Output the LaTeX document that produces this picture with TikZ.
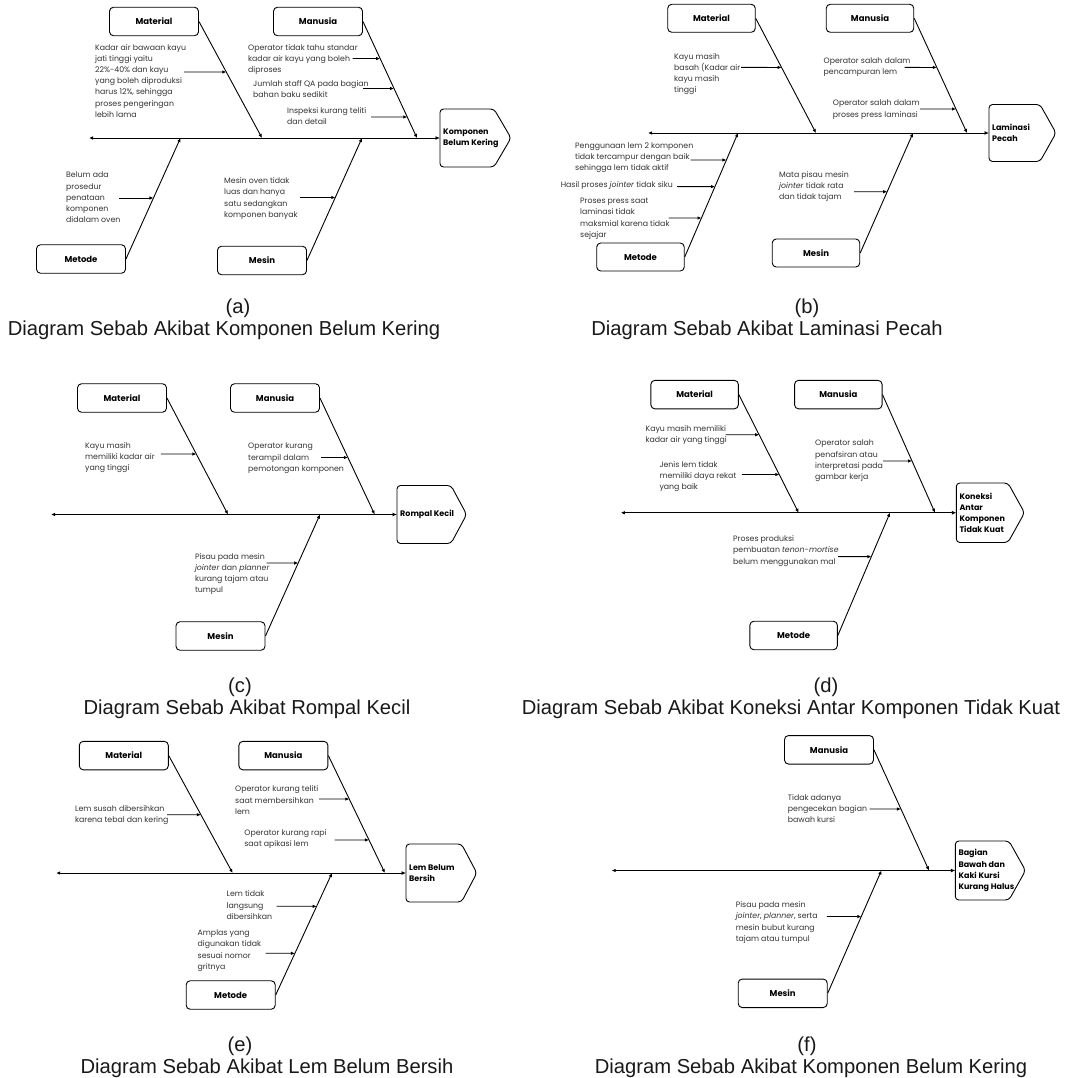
\documentclass[tikz,border=0pt]{standalone}
\usepackage{fontspec}
\setmainfont{Poppins}
\newfontfamily\capfont{Liberation Sans}
\usetikzlibrary{arrows.meta,calc}

% cause: #1 name, #2 x, #3 y (first line centre), #4 text, #5 arrow start x, #6 arrow y, #7 #8 bone ends
\newcommand{\fbcause}[8]{%
  \node[causetext, yshift=3pt] (#1) at (#2,#3) {#4};
  \coordinate (#1s) at (#5,#6);
  \coordinate (#1h) at (#5+20,#6);
  \draw[causearrow] (#1s) -- (intersection of #1s--#1h and #7--#8);
}
% head: #1 name, #2 x0, #3 x1, #4 x2 (tip), #5 y0, #6 y1
\newcommand{\fbhead}[6]{%
  \path[headline] (#2,#5) -- (#3,#5) -- (#4,{(#5+#6)/2}) -- (#3,#6) -- (#2,#6) -- cycle;
  \coordinate (#1) at (#2,{(#5+#6)/2});
}

\begin{document}
\begin{tikzpicture}[x=1pt,y=-1pt,
  catbox/.style={draw, line width=0.9pt, rounded corners=4pt, minimum width=89pt,
    minimum height=28.5pt, inner sep=0pt, font=\fontsize{8.5}{10}\selectfont\bfseries},
  catline/.style={line width=0.9pt, -{Latex[length=4pt,width=3.5pt]}},
  spineline/.style={line width=0.9pt, {Latex[length=4pt,width=3.5pt]}-{Latex[length=4.5pt,width=4pt]}},
  causetext/.style={anchor=north west, inner sep=0pt, align=left, text=black!80,
    font=\fontsize{7.8}{11.2}\selectfont},
  causearrow/.style={line width=0.8pt, -{Latex[length=4pt,width=3.5pt]}},
  headline/.style={draw, line width=0.9pt, rounded corners=3.5pt},
  headtext/.style={anchor=west, inner sep=0pt, align=left, font=\fontsize{8}{11.2}\selectfont\bfseries},
  capt/.style={anchor=base, inner sep=0pt, font=\capfont\fontsize{20.2}{22}\selectfont, text=black!90},
]
\fill[white] (0,0) rectangle (1068,1078);
\useasboundingbox (0,0) rectangle (1068,1078);

%%%%%%%%%%%%%%%% (a)
\node[catbox] (matA) at (154,21.5) {Material};
\node[catbox] (manA) at (318,21.5) {Manusia};
\node[catbox] (metA) at (81,259) {Metode};
\node[catbox] (mesA) at (262,260.5) {Mesin};
\fbhead{hA}{440}{494}{511}{109}{167}
\node[headtext] (hAt) at ([xshift=3pt]hA) {Komponen\\Belum Kering};
\coordinate (spA) at (89,138);
\draw[spineline] (spA) -- (hA);
\coordinate (matAe) at (matA.east); \coordinate (matAp) at (262,138);
\coordinate (manAe) at (manA.east); \coordinate (manAp) at (417,138);
\coordinate (metAe) at (metA.east); \coordinate (metAp) at (180.5,138);
\coordinate (mesAe) at (mesA.east); \coordinate (mesAp) at (362,138);
\draw[catline] (matAe) -- (matAp);
\draw[catline] (manAe) -- (manAp);
\draw[catline] (metAe) -- (metAp);
\draw[catline] (mesAe) -- (mesAp);
\fbcause{ca1}{95}{47}{Kadar air bawaan kayu\\jati tinggi yaitu\\22\%-40\% dan kayu\\yang boleh diproduksi\\harus 12\%, sehingga\\proses pengeringan\\lebih lama}{184}{72}{matAe}{matAp}
\fbcause{ca2}{248}{47}{Operator tidak tahu standar\\kadar air kayu yang boleh\\diproses}{352.5}{58.6}{manAe}{manAp}
\fbcause{ca3}{253}{83}{Jumlah staff QA pada bagian\\bahan baku sedikit}{363}{88.5}{manAe}{manAp}
\fbcause{ca4}{287}{110}{Inspeksi kurang teliti\\dan detail}{371}{117}{manAe}{manAp}
\fbcause{ca5}{66}{175}{Belum ada\\prosedur\\penataan\\komponen\\didalam oven}{119}{198}{metAe}{metAp}
\fbcause{ca6}{224}{180.5}{Mesin oven tidak\\luas dan hanya\\satu sedangkan\\komponen banyak}{300}{197.5}{mesAe}{mesAp}
\node[capt] (labA) at (238,313) {(a)};
\node[capt] (capA) at (224,335) {Diagram Sebab Akibat Komponen Belum Kering};

%%%%%%%%%%%%%%%% (b)
\begin{scope}[catbox/.append style={minimum width=87.5pt, minimum height=28pt}]
\node[catbox] (matB) at (711.5,18.3) {Material};
\node[catbox] (manB) at (870,18.3) {Manusia};
\node[catbox] (metB) at (640.5,257) {Metode};
\node[catbox] (mesB) at (816,253) {Mesin};
\end{scope}
\fbhead{hB}{989}{1040}{1056}{104.5}{161.5}
\node[headtext] (hBt) at ([xshift=3pt]hB) {Laminasi\\Pecah};
\coordinate (spB) at (648,133);
\draw[spineline] (spB) -- (hB);
\coordinate (matBe) at (matB.east); \coordinate (matBp) at (816,133);
\coordinate (manBe) at (manB.east); \coordinate (manBp) at (967,133);
\coordinate (metBe) at (metB.east); \coordinate (metBp) at (738,133);
\coordinate (mesBe) at (mesB.east); \coordinate (mesBp) at (913,133);
\draw[catline] (matBe) -- (matBp);
\draw[catline] (manBe) -- (manBp);
\draw[catline] (metBe) -- (metBp);
\draw[catline] (mesBe) -- (mesBp);
\fbcause{cb1}{674}{56}{Kayu masih\\basah (Kadar air\\kayu masih\\tinggi}{741}{67.4}{matBe}{matBp}
\fbcause{cb2}{823.5}{60.6}{Operator salah dalam\\pencampuran lem}{904.6}{67.4}{manBe}{manBp}
\fbcause{cb3}{832.7}{103}{Operator salah dalam\\proses press laminasi}{920}{109}{manBe}{manBp}
\fbcause{cb4}{575}{145.4}{Penggunaan lem 2 komponen\\tidak tercampur dengan baik\\sehingga lem tidak aktif}{690.7}{160}{metBe}{metBp}
\fbcause{cb5}{560.6}{184}{Hasil proses \textit{jointer} tidak siku}{677}{186.6}{metBe}{metBp}
\fbcause{cb6}{580}{201}{Proses press saat\\laminasi tidak\\maksmial karena tidak\\sejajar}{668.5}{218}{metBe}{metBp}
\fbcause{cb7}{779}{174.4}{Mata pisau mesin\\\textit{jointer} tidak rata\\dan tidak tajam}{854}{191.7}{mesBe}{mesBp}
\node[capt] (labB) at (807,313) {(b)};
\node[capt] (capB) at (767,335) {Diagram Sebab Akibat Laminasi Pecah};

%%%%%%%%%%%%%%%% (c)
\node[catbox] (matC) at (122,398) {Material};
\node[catbox] (manC) at (275,398) {Manusia};
\node[catbox] (mesC) at (220.5,636) {Mesin};
\fbhead{hC}{397}{451}{466.6}{485.5}{543.5}
\node[headtext] (hCt) at ([xshift=3pt]hC) {Rompal Kecil};
\coordinate (spC) at (51,514.5);
\draw[spineline] (spC) -- (hC);
\coordinate (matCe) at (matC.east); \coordinate (matCp) at (228,514.5);
\coordinate (manCe) at (manC.east); \coordinate (manCp) at (374.7,514.5);
\coordinate (mesCe) at (mesC.east); \coordinate (mesCp) at (320,514.5);
\draw[catline] (matCe) -- (matCp);
\draw[catline] (manCe) -- (manCp);
\draw[catline] (mesCe) -- (mesCp);
\fbcause{cc1}{85}{445}{Kayu masih\\memiliki kadar air\\yang tinggi}{160.8}{454}{matCe}{matCp}
\fbcause{cc2}{248}{446}{Operator kurang\\terampil dalam\\pemotongan komponen}{321}{457.5}{manCe}{manCp}
\fbcause{cc3}{194.8}{556}{Pisau pada mesin\\\textit{jointer} dan \textit{planner}\\kurang tajam atau\\tumpul}{266.7}{563}{mesCe}{mesCp}
\node[capt] (labC) at (240,692) {(c)};
\node[capt] (capC) at (247,714) {Diagram Sebab Akibat Rompal Kecil};

%%%%%%%%%%%%%%%% (d)
\begin{scope}[catbox/.append style={minimum width=87.5pt}]
\node[catbox] (matD) at (694.6,394.6) {Material};
\node[catbox] (manD) at (838.3,394.6) {Manusia};
\node[catbox] (metD) at (793.6,635.5) {Metode};
\end{scope}
\fbhead{hD}{956.3}{1008}{1024.5}{483}{542.5}
\node[headtext] (hDt) at ([xshift=3pt]hD) {Koneksi\\Antar\\Komponen\\Tidak Kuat};
\coordinate (spD) at (620.8,512.75);
\draw[spineline] (spD) -- (hD);
\coordinate (matDe) at (matD.east); \coordinate (matDp) at (798.6,512.75);
\coordinate (manDe) at (manD.east); \coordinate (manDp) at (935,512.75);
\coordinate (metDe) at (metD.east); \coordinate (metDp) at (890,512.75);
\draw[catline] (matDe) -- (matDp);
\draw[catline] (manDe) -- (manDp);
\draw[catline] (metDe) -- (metDp);
\fbcause{cd1}{645.4}{428.6}{Kayu masih memiliki\\kadar air yang tinggi}{725.5}{434.7}{matDe}{matDp}
\fbcause{cd2}{659.3}{464.3}{Jenis lem tidak\\memiliki daya rekat\\yang baik}{741.8}{474.5}{matDe}{matDp}
\fbcause{cd3}{815}{443}{Operator salah\\penafsiran atau\\interpretasi pada\\gambar kerja}{883}{461}{manDe}{manDp}
\fbcause{cd4}{733}{538.6}{Proses produksi\\pembuatan \textit{tenon-mortise}\\belum menggunakan mal}{838}{556.6}{metDe}{metDp}
\node[capt] (labD) at (826,692) {(d)};
\node[capt] (capD) at (791,714) {Diagram Sebab Akibat Koneksi Antar Komponen Tidak Kuat};

%%%%%%%%%%%%%%%% (e)
\node[catbox] (matE) at (123.8,755.6) {Material};
\node[catbox] (manE) at (283.4,755.6) {Manusia};
\node[catbox] (metE) at (230.7,995) {Metode};
\fbhead{hE}{406}{461.5}{476.8}{844}{902}
\node[headtext] (hEt) at ([xshift=3pt]hE) {Lem Belum\\Bersih};
\coordinate (spE) at (56.2,873);
\draw[spineline] (spE) -- (hE);
\coordinate (matEe) at (matE.east); \coordinate (matEp) at (232.6,873);
\coordinate (manEe) at (manE.east); \coordinate (manEp) at (384.9,873);
\coordinate (metEe) at (metE.east); \coordinate (metEp) at (332,873);
\draw[catline] (matEe) -- (matEp);
\draw[catline] (manEe) -- (manEp);
\draw[catline] (metEe) -- (metEp);
\fbcause{ce1}{75}{808.5}{Lem susah dibersihkan\\karena tebal dan kering}{167}{814.7}{matEe}{matEp}
\fbcause{ce2}{235}{788.8}{Operator kurang teliti\\saat membersihkan\\lem}{319}{799}{manEe}{manEp}
\fbcause{ce3}{244.2}{832.4}{Operator kurang rapi\\saat apikasi lem}{334.5}{839.9}{manEe}{manEp}
\fbcause{ce4}{226.5}{893.7}{Lem tidak\\langsung\\dibersihkan}{276.6}{906.3}{metEe}{metEp}
\fbcause{ce5}{197.5}{932.8}{Amplas yang\\digunakan tidak\\sesuai nomor\\gritnya}{265.7}{953.3}{metEe}{metEp}
\node[capt] (labE) at (240,1051) {(e)};
\node[capt] (capE) at (267,1073) {Diagram Sebab Akibat Lem Belum Bersih};

%%%%%%%%%%%%%%%% (f)
\node[catbox] (manF) at (829,749.8) {Manusia};
\node[catbox] (mesF) at (782.7,993.3) {Mesin};
\fbhead{hF}{955.3}{1009}{1025.5}{841}{900}
\node[headtext] (hFt) at ([xshift=3pt]hF) {Bagian\\Bawah dan\\Kaki Kursi\\Kurang Halus};
\coordinate (spF) at (611.7,870.5);
\draw[spineline] (spF) -- (hF);
\coordinate (manFe) at (manF.east); \coordinate (manFp) at (929,870.5);
\coordinate (mesFe) at (mesF.east); \coordinate (mesFp) at (881.4,870.5);
\draw[catline] (manFe) -- (manFp);
\draw[catline] (mesFe) -- (mesFp);
\fbcause{cf1}{787.7}{797.3}{Tidak adanya\\pengecekan bagian\\bawah kursi}{869.5}{809}{manFe}{manFp}
\fbcause{cf2}{735.6}{904.6}{Pisau pada mesin\\\textit{jointer}, \textit{planner}, serta\\mesin bubut kurang\\tajam atau tumpul}{826.9}{916.5}{mesFe}{mesFp}
\node[capt] (labF) at (807,1051) {(f)};
\node[capt] (capF) at (811,1073) {Diagram Sebab Akibat Komponen Belum Kering};
\end{tikzpicture}
\end{document}
